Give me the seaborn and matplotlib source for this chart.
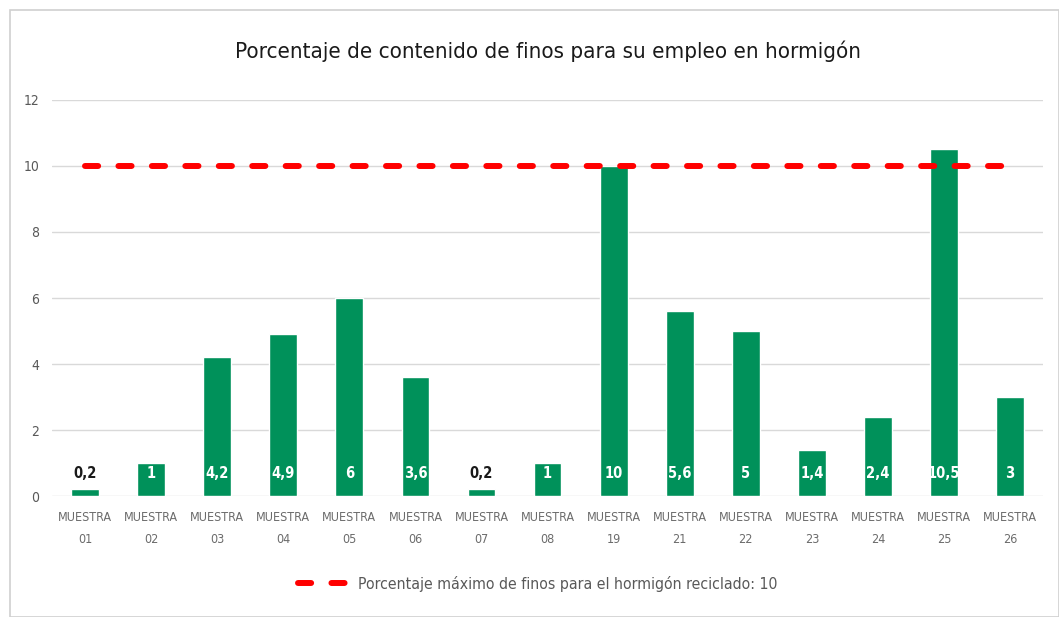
import matplotlib
matplotlib.use("Agg")
import matplotlib.pyplot as plt
import seaborn as sns
import pandas as pd
from matplotlib.patches import Rectangle

muestras = ["01", "02", "03", "04", "05", "06", "07", "08",
            "19", "21", "22", "23", "24", "25", "26"]
finos = [0.2, 1, 4.2, 4.9, 6, 3.6, 0.2, 1, 10, 5.6, 5, 1.4, 2.4, 10.5, 3]
limite = [10] * len(muestras)
etiquetas = ["0,2", "1", "4,2", "4,9", "6", "3,6", "0,2", "1",
             "10", "5,6", "5", "1,4", "2,4", "10,5", "3"]

sns.set_theme(style="white")
plt.rcParams['font.family'] = ['DejaVu Sans']
plt.rcParams['font.stretch'] = 'condensed'

df = pd.DataFrame({
    "muestra": ["MUESTRA\n" + m for m in muestras],
    "finos": finos,
    "pos": range(len(muestras)),
    "limite": limite,
})

fig = plt.figure(figsize=(10.59, 6.17), dpi=100)
ax = fig.add_axes([0.0491, 0.196, 0.936, 0.642])

# chart frame
fig.patches.append(Rectangle((10 / 1059, 0), 1 - 10 / 1059, 1 - 10 / 617,
                             transform=fig.transFigure, fill=False,
                             edgecolor="#d0d0d0", linewidth=1.2))

sns.barplot(data=df, x="muestra", y="finos", color="#00915A",
            width=0.42, saturation=1, ax=ax)
sns.lineplot(data=df, x="pos", y="limite", color="#ff0000", linewidth=4.3,
             ax=ax, label="Porcentaje máximo de finos para el hormigón reciclado: 10")
lim_line = ax.lines[-1]
lim_line.set_dashes((2.2, 3.4))
lim_line.set_dash_capstyle("round")

for i, (v, t) in enumerate(zip(finos, etiquetas)):
    ax.text(i, 0.67, t, ha="center", va="center", fontsize=10.5,
            fontweight="bold", color="white" if v > 0.7 else "#1a1a1a")

ax.set_xlim(-0.5, len(muestras) - 0.5)
ax.set_ylim(0, 12)
ax.set_yticks(range(0, 13, 2))
ax.yaxis.grid(True, color="#d9d9d9", linewidth=1)
ax.set_axisbelow(True)
for s in ax.spines.values():
    s.set_visible(False)
ax.tick_params(axis="y", colors="#595959", labelsize=10, length=0, pad=9)
ax.tick_params(axis="x", colors="#6b6b6b", labelsize=9, length=0, pad=11)
for lbl in ax.get_xticklabels():
    lbl.set_linespacing(1.9)
ax.set_xlabel("")
ax.set_ylabel("")

ax.set_title("Porcentaje de contenido de finos para su empleo en hormigón",
             fontsize=16, color="#1a1a1a", pad=30)

leg = ax.legend(loc="upper center", bbox_to_anchor=(0.49, -0.165), frameon=False,
                fontsize=11.3, labelcolor="#595959", handlelength=3.0)
for h in leg.get_lines():
    h.set_dashes((2.2, 3.4))
    h.set_dash_capstyle("round")

fig.savefig("out.png", dpi=100, facecolor="white")
